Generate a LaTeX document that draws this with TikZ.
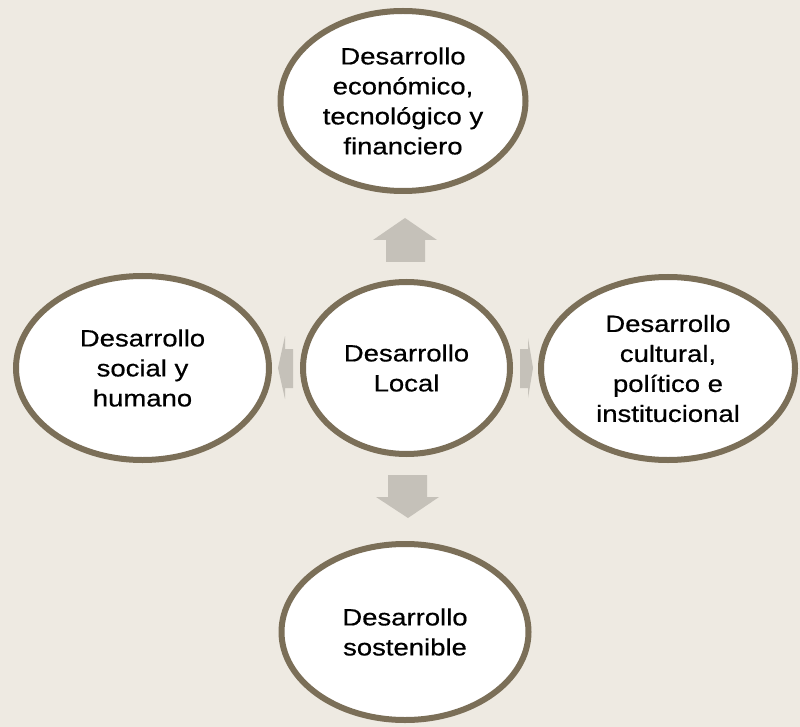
\documentclass[tikz,border=0pt]{standalone}
\usepackage{fontspec}
\setmainfont[FakeStretch=1.17,FakeBold=0.6]{Liberation Sans}
\usetikzlibrary{shapes.geometric}
\definecolor{bg}{HTML}{EEEAE2}
\definecolor{rim}{HTML}{7B6F58}
\definecolor{arr}{HTML}{C5C1B9}
\begin{document}
\begin{tikzpicture}[x=1pt,y=-1pt,
  bubble/.style={ellipse, draw=rim, line width=6pt, fill=white, inner sep=0pt,
    align=center, text=black, font=\fontsize{23.5}{30}\selectfont},
  blockarrow/.style={fill=arr, draw=none}]
\fill[bg] (0,0) rectangle (800,727);
\useasboundingbox (0,0) rectangle (800,727);
% block arrows
\fill[blockarrow] (386,262) -- (386,240) -- (373,240) -- (405,218) -- (437,240) -- (425,240) -- (425,262) -- cycle;
\fill[blockarrow] (388,475) -- (427,475) -- (427,497) -- (439,497) -- (408,518) -- (376,497) -- (388,497) -- cycle;
\fill[blockarrow] (293,349) -- (285,349) -- (285,336) -- (278,368) -- (285,399) -- (285,388) -- (293,388) -- cycle;
\fill[blockarrow] (520,349) -- (528,349) -- (528,338) -- (533,368) -- (528,398) -- (528,388) -- (520,388) -- cycle;
% ellipses
\node[bubble, minimum width=245pt, minimum height=180pt] (top) at (403,101)
  {Desarrollo\\económico,\\tecnológico y\\financiero};
\node[bubble, minimum width=207pt, minimum height=172pt] (center) at (406.5,368)
  {Desarrollo\\Local};
\node[bubble, minimum width=253pt, minimum height=184pt] (left) at (142.5,368)
  {Desarrollo\\social y\\humano};
\node[bubble, minimum width=254pt, minimum height=183pt] (right) at (668,368.5)
  {Desarrollo\\cultural,\\político e\\institucional};
\node[bubble, minimum width=247pt, minimum height=176pt] (bottom) at (405,632)
  {Desarrollo\\sostenible};
\end{tikzpicture}
\end{document}
